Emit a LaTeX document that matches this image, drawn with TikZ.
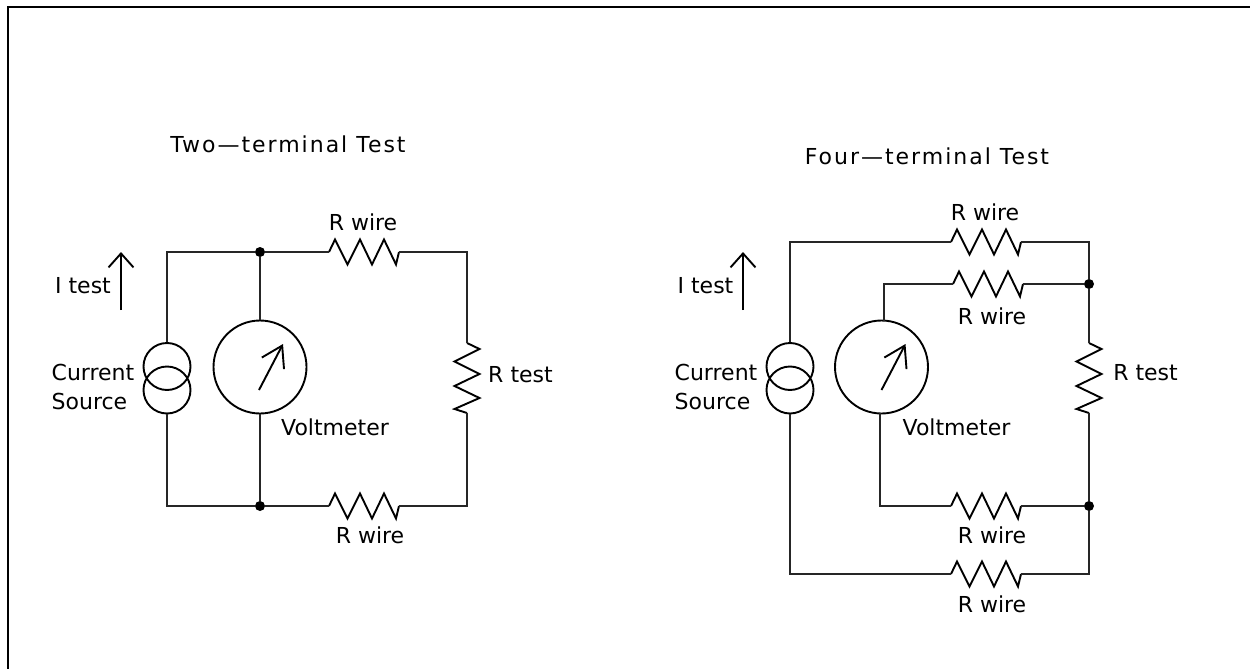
\documentclass[tikz,border=0pt]{standalone}
\usepackage{fontspec}
\setmainfont{DejaVu Sans}
\usetikzlibrary{arrows.meta}
\tikzset{
  wire/.style={line width=1.1pt, color=black!85},
  thickline/.style={line width=1.9pt},
  frameline/.style={line width=2.4pt},
  label/.style={font=\fontsize{22}{29}\selectfont, inner sep=0pt, align=left},
  titlelabel/.style={font=\fontsize{22}{29}\selectfont\addfontfeature{LetterSpace=9}, inner sep=0pt},
  dot/.style={circle, fill=black, minimum size=10pt, inner sep=0pt},
  srcring/.style={circle, draw, thickline, minimum size=47pt, inner sep=0pt},
  meter/.style={circle, draw, thickline, minimum size=93pt, inner sep=0pt},
  arrow/.style={thickline, -{Straight Barb[length=14pt, width=25pt, line width=1.9pt]}},
  needle/.style={thickline, -{Straight Barb[length=20pt, width=25pt, line width=1.9pt]}},
  resh/.pic={
    \draw[thickline, line join=miter] (0,0) -- (6,-12.5) -- (18.5,12.5) -- (31,-12.5)
      -- (43,12.5) -- (55,-12.5) -- (67,12.5) -- (70,0);
    \coordinate (-in) at (0,0);
    \coordinate (-out) at (70,0);
  },
  resv/.pic={
    \draw[thickline, line join=miter] (0,0) -- (12.5,6) -- (-12.5,18.5) -- (12.5,31)
      -- (-12.5,43) -- (12.5,55) -- (-12.5,66) -- (0,70);
    \coordinate (-in) at (0,0);
    \coordinate (-out) at (0,70);
  }
}
\begin{document}
\begin{tikzpicture}[x=1pt, y=-1pt]
\useasboundingbox (0,0) rectangle (1250,669);
% page edge
\coordinate (topleft) at (8,7);
\coordinate (topright) at (1250,7);
\coordinate (botleft) at (8,669);
\draw[frameline] (botleft) -- (topleft) -- (topright);

% two-terminal
\node[titlelabel] (titleA) at (288,144) {Two---terminal Test};
\node[dot] (junAt) at (260,252) {};
\node[dot] (junAb) at (260,506) {};
\node[srcring] (srcAt) at (167,366.5) {};
\node[srcring] (srcAb) at (167,390) {};
\node[meter] (vmA) at (260,367) {};
\pic (rwAt) at (329,252) {resh};
\pic (rwAb) at (329,506) {resh};
\pic (rtA) at (467,343) {resv};
\coordinate (crnAt) at (467,252);
\coordinate (crnAb) at (467,506);
\draw[wire] (srcAt.north) |- (junAt);
\draw[wire] (junAt) -- (rwAt-in);
\draw[wire] (rwAt-out) -- (crnAt) -- (rtA-in);
\draw[wire] (rtA-out) -- (crnAb) -- (rwAb-out);
\draw[wire] (rwAb-in) -- (junAb);
\draw[wire] (junAb) -| (srcAb.south);
\draw[wire] (junAt) -- (vmA.north);
\draw[wire] (vmA.south) -- (junAb);
\coordinate (ndlAa) at (259,390);
\coordinate (ndlAb) at (283,344);
\draw[needle] (ndlAa) -- (ndlAb);
\coordinate (curAa) at (121,310);
\coordinate (curAb) at (121,252);
\draw[arrow] (curAa) -- (curAb);
\node[label] (itestA) at (83,286) {I test};
\node[label] (srclblA) at (93,387) {Current\\Source};
\node[label] (vmlblA) at (335,427) {Voltmeter};
\node[label] (rtlblA) at (520.5,375) {R test};
\node[label] (rwlblAt) at (363,222) {R wire};
\node[label] (rwlblAb) at (370,535) {R wire};

% four-terminal
\node[titlelabel] (titleB) at (927,156) {Four---terminal Test};
\node[dot] (junBt) at (1089,284) {};
\node[dot] (junBb) at (1089,506) {};
\node[srcring] (srcBt) at (790,366.5) {};
\node[srcring] (srcBb) at (790,390) {};
\node[meter] (vmB) at (881.5,367) {};
\pic (rwBa) at (951,242) {resh};
\pic (rwBb) at (953,284) {resh};
\pic (rwBc) at (951,506) {resh};
\pic (rwBd) at (951,574) {resh};
\pic (rtB) at (1089,343) {resv};
\coordinate (crnBa) at (1089,242);
\coordinate (crnBd) at (1089,574);
\coordinate (tapBt) at (884,321);
\coordinate (tapBb) at (880,413);
\draw[wire] (srcBt.north) |- (rwBa-in);
\draw[wire] (rwBa-out) -- (crnBa) -- (junBt);
\draw[wire] (tapBt) |- (rwBb-in);
\draw[wire] (rwBb-out) -- (junBt);
\draw[wire] (junBt) -- (rtB-in);
\draw[wire] (rtB-out) -- (junBb);
\draw[wire] (tapBb) |- (rwBc-in);
\draw[wire] (rwBc-out) -- (junBb);
\draw[wire] (junBb) -- (crnBd) -- (rwBd-out);
\draw[wire] (rwBd-in) -| (srcBb.south);
\coordinate (ndlBa) at (881.5,390);
\coordinate (ndlBb) at (905.5,344);
\draw[needle] (ndlBa) -- (ndlBb);
\coordinate (curBa) at (743,310);
\coordinate (curBb) at (743,252);
\draw[arrow] (curBa) -- (curBb);
\node[label] (itestB) at (705.5,286) {I test};
\node[label] (srclblB) at (716,387) {Current\\Source};
\node[label] (vmlblB) at (956.5,427) {Voltmeter};
\node[label] (rtlblB) at (1145.5,373) {R test};
\node[label] (rwlblBa) at (985,212) {R wire};
\node[label] (rwlblBb) at (992,316) {R wire};
\node[label] (rwlblBc) at (992,535) {R wire};
\node[label] (rwlblBd) at (992,604) {R wire};
\end{tikzpicture}
\end{document}
